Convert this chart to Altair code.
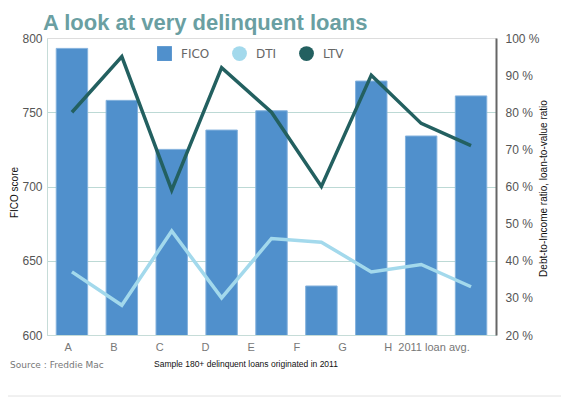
import altair as alt
import pandas as pd

categories = ["A", "B", "C", "D", "E", "F", "G", "H", "2011 loan avg."]
fico = [793, 758, 725, 738, 751, 633, 771, 734, 761]
dti = [37, 28, 48, 30, 46, 45, 37, 39, 33]
ltv = [80, 95, 59, 92, 80, 60, 90, 77, 71]

series_names = ["FICO", "DTI", "LTV"]
series_colors = ["#5090cc", "#a3d9ec", "#236060"]
series_shapes = ["square", "circle", "circle"]
fico_ticks = [600, 650, 700, 750, 800]
pct_ticks = [20, 30, 40, 50, 60, 70, 80, 90, 100]

title_text = "A look at very delinquent loans"
source_text = "Source : Freddie Mac"
note_text = "Sample 180+ delinquent loans originated in 2011"
left_title = "FICO score"
right_title = "Debt-to-Income ratio, loan-to-value ratio"

W, H = 449, 297

bars_df = pd.DataFrame({"cat": categories, "value": fico, "series": "FICO"})
lines_df = pd.concat([
    pd.DataFrame({"cat": categories, "value": dti, "series": "DTI"}),
    pd.DataFrame({"cat": categories, "value": ltv, "series": "LTV"}),
])
labels_df = pd.DataFrame({"cat": categories})
legend_df = pd.DataFrame({"series": series_names})

color_scale = alt.Scale(domain=series_names, range=series_colors)
shape_scale = alt.Scale(domain=series_names, range=series_shapes)
legend = alt.Legend(
    orient="none", legendX=110, legendY=8, direction="horizontal", title=None,
    symbolSize=220, symbolStrokeWidth=0, symbolOpacity=1,
    labelFont="DejaVu Sans", labelFontSize=12, labelColor="#666666",
    columnPadding=22, labelOffset=9, padding=0,
)

legend_pts = alt.Chart(legend_df).mark_point(filled=True, opacity=0).encode(
    x=alt.value(0), y=alt.value(0),
    color=alt.Color("series:N", scale=color_scale, legend=legend),
    shape=alt.Shape("series:N", scale=shape_scale, legend=legend),
)

bars = alt.Chart(bars_df).mark_bar(stroke="#84b2dd", strokeWidth=1, clip=True).encode(
    x=alt.X("cat:N", sort=categories,
            scale=alt.Scale(type="band", paddingInner=0.37, paddingOuter=0.185),
            axis=alt.Axis(labels=False, ticks=False, domain=True, domainColor="#c6dcd8",
                          title=None, grid=False)),
    y=alt.Y("value:Q", scale=alt.Scale(domain=[600, 800], nice=False, zero=False),
            axis=alt.Axis(orient="left", values=fico_ticks, ticks=False,
                          domainColor="#c6dcd8", labelColor="#555555", labelFontSize=12,
                          labelFont="Liberation Sans", labelPadding=5,
                          grid=True, gridColor="#bcd9d5",
                          gridOpacity={"condition": {"test": "datum.value == 600 || datum.value == 800", "value": 0}, "value": 1},
                          title=left_title, titleFont="Liberation Sans", titleFontSize=10,
                          titleFontWeight="normal", titleColor="#111111",
                          titleX=-33, titleY=154, titleAngle=270, titleAlign="center",
                          titleBaseline="middle")),
    color=alt.Color("series:N", scale=color_scale, legend=legend),
)

lines = alt.Chart(lines_df).mark_line(strokeWidth=3.5).encode(
    x=alt.X("cat:N", sort=categories, scale=alt.Scale(type="point", padding=0.5), axis=None),
    y=alt.Y("value:Q", scale=alt.Scale(domain=[20, 100], nice=False, zero=False),
            axis=alt.Axis(orient="right", values=pct_ticks, ticks=False,
                          domainColor="#666666", domainWidth=2, labelColor="#555555",
                          labelFontSize=12, labelFont="Liberation Sans", labelPadding=9,
                          labelExpr="datum.value + ' %'", grid=False,
                          title=right_title, titleFont="Liberation Sans", titleFontSize=10,
                          titleFontWeight="normal", titleColor="#111111",
                          titleX=47, titleY=150, titleAngle=270, titleAlign="center",
                          titleBaseline="middle")),
    color=alt.Color("series:N", scale=color_scale, legend=legend),
    detail="series:N",
)

xlabels = alt.Chart(labels_df).mark_point(opacity=0).encode(
    x=alt.X("cat:N", sort=categories,
            scale=alt.Scale(type="point", padding=0, range=[20.7, 386.5]),
            axis=alt.Axis(orient="bottom", ticks=False, domain=False, grid=False,
                          labelColor="#777777", labelFontSize=11, labelFont="Liberation Sans",
                          labelPadding=6, labelAngle=0, title=None)),
    y=alt.value(0),
)

title = alt.Chart(pd.DataFrame({"t": [title_text]})).mark_text(
    align="left", baseline="alphabetic", font="Liberation Sans", fontSize=22,
    fontWeight="bold", color="#6a9fa2"
).encode(x=alt.value(-4), y=alt.value(-8.5), text="t:N")

source = alt.Chart(pd.DataFrame({"t": [source_text]})).mark_text(
    align="left", baseline="middle", font="DejaVu Sans", fontSize=9, color="#777777"
).encode(x=alt.value(-37), y=alt.value(327), text="t:N")

note = alt.Chart(pd.DataFrame({"t": [note_text]})).mark_text(
    align="left", baseline="middle", font="Liberation Sans", fontSize=8.5, color="#111111"
).encode(x=alt.value(107), y=alt.value(326), text="t:N")

bottom_rule = alt.Chart(pd.DataFrame({"t": [0]})).mark_rule(color="#e2e2e2", strokeWidth=1).encode(
    x=alt.value(-47), x2=alt.value(522), y=alt.value(358))

chart = alt.layer(legend_pts, bars, lines, xlabels, title, source, note, bottom_rule).resolve_scale(
    x="independent", y="independent"
).properties(
    width=W, height=H,
    autosize=alt.AutoSizeParams(type="none"),
    padding={"left": 39, "top": 30, "right": 65, "bottom": 62},
).configure_view(fill="#eef5f1", stroke=None).configure(background="white")

chart.save("out.html", embed_options={"renderer": "svg", "actions": False})
